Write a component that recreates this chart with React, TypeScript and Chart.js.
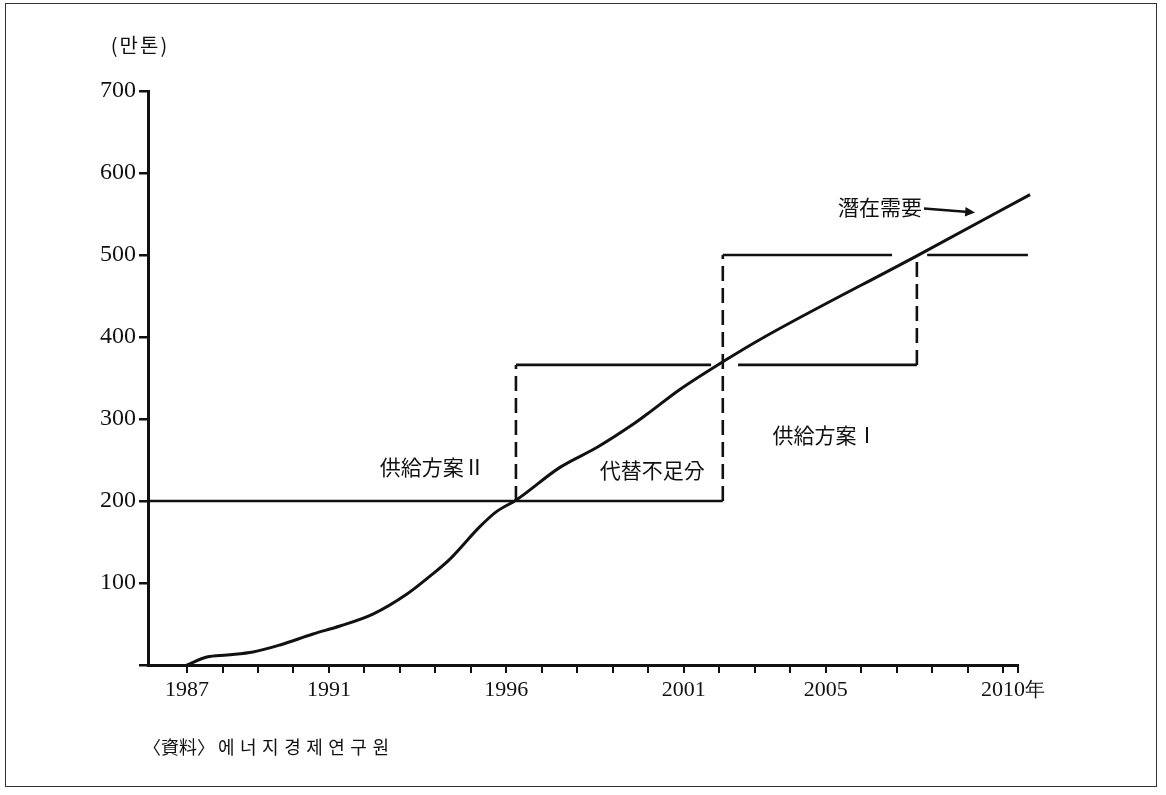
import React, { useEffect, useRef } from "react";
import { Chart, registerables } from "chart.js";

Chart.register(...registerables);

// ---------------- data ----------------
// potential demand (潛在需要), 만톤
const demandYears = [1987.0, 1987.56, 1988.13, 1988.86, 1989.62, 1990.55, 1991.31, 1992.24, 1993.2, 1993.85, 1994.41, 1995.26, 1995.74, 1996.27, 1997.51, 1998.56, 1999.57, 1999.96, 2000.89, 2002.11, 2003.15, 2007.57, 2010.76];
const demandValues = [0, 9.7, 12.2, 15.8, 24.4, 37.8, 47.5, 62, 86.5, 108.4, 129.1, 169, 187.6, 201, 241, 265.5, 293.5, 305.7, 336, 370, 397, 499, 573.7];

// supply: common base level
const baseYears = [1985.9, 2002.1];
const baseValues = [200, 200];
// supply plan I: rise in 2002 to 500
const planIRiseYears = [2002.1, 2002.1];
const planIRiseValues = [200, 500];
const topYears = [2002.1, 2006.87, 2007.3, 2007.86, 2010.7];
const topValues = [500, 500, null, 500, 500];
// supply plan II: rise in 1996 to ~366, then 500 in 2007.5
const planIIRiseYears = [1996.27, 1996.27];
const planIIRiseValues = [200, 366];
const midYears = [1996.27, 2001.77, 2002.1, 2002.53, 2007.57];
const midValues = [366, 366, null, 366, 366];
const planIIRise2Years = [2007.57, 2007.57];
const planIIRise2Values = [366, 500];

// axes
const xMin = 1985.9;
const xMax = 2010.42;
const xTickYears = [1987, 1988, 1989, 1990, 1991, 1992, 1993, 1994, 1995, 1996, 1997, 1998, 1999, 2000, 2001, 2002, 2003, 2004, 2005, 2006, 2007, 2008, 2009, 2010, 2010.42];
const xLabelYears = [1987, 1991, 1996, 2001, 2005, 2010];
const xUnitSuffix = "年";
const yMax = 700;
const yStep = 100;

// annotations
const noteTexts = ["供給方案Ⅱ", "代替不足分", "供給方案Ⅰ", "潛在需要"];
const noteYears = [1993.91, 2000.11, 2004.98, 2006.53];
const noteValues = [242, 237.5, 281, 558];
const arrowYears = [2007.77, 2009.21];
const arrowValues = [556.6, 551.8];
const unitLabel = "(만톤)";
const sourceLabel = "〈資料〉";
const sourceName = "에너지경제연구원";

const INK = "#111111";
const SERIF = "'Liberation Serif', 'DejaVu Serif', serif";
const CJK = "'Noto Sans CJK KR', 'Noto Sans CJK TC', sans-serif";
const X_FONT = 22;

function pts(xs: number[], ys: (number | null)[]) {
  return xs.map((x, i) => ({ x, y: ys[i] }));
}

const annotationPlugin = {
  id: "paperAnnotations",
  afterDraw(chart: any) {
    const { ctx, chartArea } = chart;
    const xs = chart.scales.x;
    const ys = chart.scales.y;
    ctx.save();
    ctx.fillStyle = INK;
    ctx.strokeStyle = INK;
    ctx.textAlign = "center";
    ctx.textBaseline = "middle";
    ctx.font = `21px ${CJK}`;
    noteTexts.forEach((t, i) => {
      ctx.fillText(t, xs.getPixelForValue(noteYears[i]), ys.getPixelForValue(noteValues[i]));
    });

    // arrow
    const ax0 = xs.getPixelForValue(arrowYears[0]);
    const ay0 = ys.getPixelForValue(arrowValues[0]);
    const ax1 = xs.getPixelForValue(arrowYears[1]);
    const ay1 = ys.getPixelForValue(arrowValues[1]);
    const ang = Math.atan2(ay1 - ay0, ax1 - ax0);
    const head = 11;
    ctx.lineWidth = 2.5;
    ctx.beginPath();
    ctx.moveTo(ax0, ay0);
    ctx.lineTo(ax1 - Math.cos(ang) * head * 0.6, ay1 - Math.sin(ang) * head * 0.6);
    ctx.stroke();
    ctx.beginPath();
    ctx.moveTo(ax1, ay1);
    ctx.lineTo(ax1 - head * Math.cos(ang - 0.45), ay1 - head * Math.sin(ang - 0.45));
    ctx.lineTo(ax1 - head * Math.cos(ang + 0.45), ay1 - head * Math.sin(ang + 0.45));
    ctx.closePath();
    ctx.fill();

    // 年 after the last x label
    const lastYear = xLabelYears[xLabelYears.length - 1];
    ctx.font = `${X_FONT - 2}px ${SERIF}`;
    ctx.font = `${X_FONT}px ${SERIF}`;
    const lw = ctx.measureText(String(lastYear)).width;
    ctx.font = `${X_FONT - 2}px ${SERIF}`;
    ctx.textAlign = "left";
    ctx.textBaseline = "middle";
    ctx.fillText(xUnitSuffix, xs.getPixelForValue(lastYear) + lw / 2, chartArea.bottom + 26);

    // unit label
    ctx.textAlign = "center";
    ctx.font = `20px ${CJK}`;
    (ctx as any).letterSpacing = "2px";
    ctx.fillText(unitLabel, chartArea.left - 8, chartArea.top - 46);
    (ctx as any).letterSpacing = "0px";

    // source
    ctx.textAlign = "left";
    ctx.font = `18px ${CJK}`;
    const sy = chartArea.bottom + 82;
    ctx.fillText(sourceLabel, chartArea.left - 5, sy);
    (ctx as any).letterSpacing = "5.5px";
    ctx.fillText(sourceName, chartArea.left + 70, sy);
    (ctx as any).letterSpacing = "0px";
    ctx.restore();
  },
};

export default function App() {
  const canvasRef = useRef<HTMLCanvasElement | null>(null);

  useEffect(() => {
    if (!canvasRef.current) return;
    const solid = { borderColor: INK, borderWidth: 2.6, pointRadius: 0, tension: 0, spanGaps: false, fill: false, clip: false as any };
    const dashed = { ...solid, borderDash: [15, 7] };
    const chart = new Chart(canvasRef.current, {
      type: "line",
      data: {
        datasets: [
          { ...solid, label: "潛在需要", data: pts(demandYears, demandValues), borderWidth: 3, cubicInterpolationMode: "monotone" } as any,
          { ...solid, label: "base", data: pts(baseYears, baseValues) },
          { ...dashed, label: "planI-rise", data: pts(planIRiseYears, planIRiseValues) },
          { ...solid, label: "planI-top", data: pts(topYears, topValues) },
          { ...dashed, label: "planII-rise", data: pts(planIIRiseYears, planIIRiseValues) },
          { ...solid, label: "planII-mid", data: pts(midYears, midValues) },
          { ...dashed, label: "planII-rise2", data: pts(planIIRise2Years, planIIRise2Values) },
        ],
      },
      options: {
        responsive: false,
        animation: false,
        devicePixelRatio: 1,
        layout: { padding: { left: 0, top: 91, right: 148, bottom: 0 } },
        plugins: { legend: { display: false }, tooltip: { enabled: false }, title: { display: false } },
        scales: {
          x: {
            type: "linear",
            min: xMin,
            max: xMax,
            afterBuildTicks: (s: any) => {
              s.ticks = xTickYears.map((v) => ({ value: v }));
            },
            afterFit: (s: any) => {
              s.height = 130;
            },
            ticks: {
              autoSkip: false,
              maxRotation: 0,
              minRotation: 0,
              padding: 4,
              color: INK,
              font: { family: SERIF, size: X_FONT },
              callback: (v: any) => (xLabelYears.indexOf(Number(v)) >= 0 ? String(v) : ""),
            },
            grid: { drawOnChartArea: false, drawTicks: true, tickLength: 8, color: INK, lineWidth: 2 },
            border: { display: true, color: INK, width: 3 },
          },
          y: {
            type: "linear",
            min: 0,
            max: yMax,
            afterFit: (s: any) => {
              s.width = 148;
            },
            ticks: {
              stepSize: yStep,
              padding: 3,
              color: INK,
              font: { family: SERIF, size: 24 },
              callback: (v: any) => (Number(v) === 0 ? "" : String(v)),
            },
            grid: { drawOnChartArea: false, drawTicks: true, tickLength: 9, color: INK, lineWidth: 2.5 },
            border: { display: true, color: INK, width: 3 },
          },
        },
      },
      plugins: [annotationPlugin],
    });
    return () => chart.destroy();
  }, []);

  return (
    <div style={{ position: "absolute", left: 0, top: 0, width: 1166, height: 795, background: "#fff" }}>
      <div
        style={{
          position: "absolute",
          left: 5,
          top: 3,
          width: 1152,
          height: 784,
          border: "1.5px solid #333",
          boxSizing: "border-box",
        }}
      />
      <canvas ref={canvasRef} width={1166} height={795} style={{ position: "absolute", left: 0, top: 0, display: "block" }} />
    </div>
  );
}
